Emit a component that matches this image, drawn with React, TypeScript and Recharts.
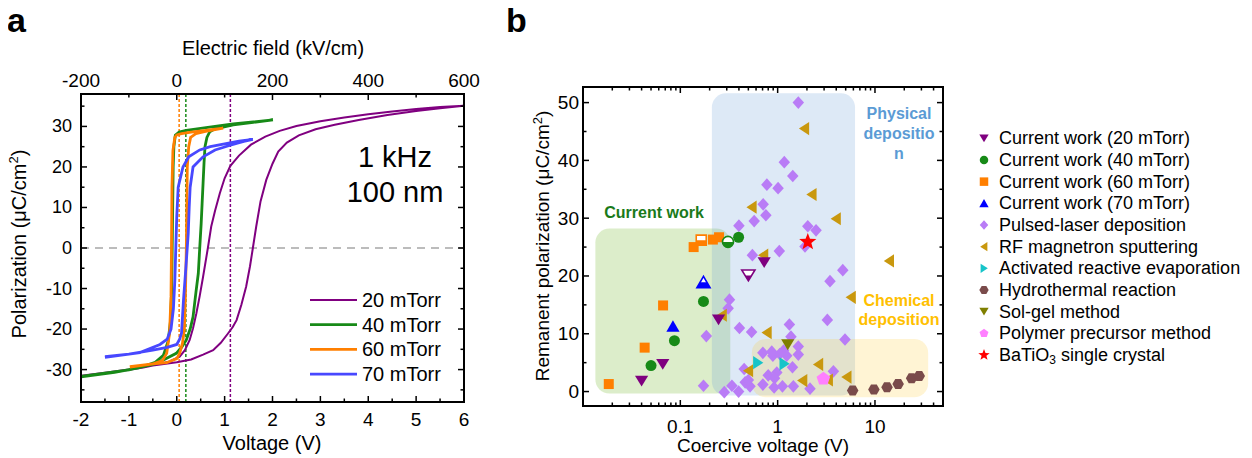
import React from "react";
import {
  ComposedChart,
  ScatterChart,
  Line,
  Scatter,
  XAxis,
  YAxis,
  ReferenceLine,
  ReferenceArea,
} from "recharts";

const FONT = "Arial, 'Liberation Sans', sans-serif";

// ---- panel a: P–V loops, [voltage (V), polarization (uC/cm2)] ----
const loop20 = [
  [-2, -31.5], [-1.5, -30.8], [-1, -30.0], [-0.5, -29.0], [0, -28.2], [0.3, -27.5], [0.55, -26.3],
  [0.76, -25.2], [0.92, -23.4], [1.07, -21.1], [1.17, -19.5], [1.25, -17.8], [1.35, -14], [1.45, -9.5],
  [1.53, -4.5], [1.59, 0], [1.66, 5.3], [1.75, 11.5], [1.87, 16.8], [2.0, 20.8], [2.12, 23.8], [2.3, 26],
  [2.55, 27.8], [2.9, 29.3], [3.3, 30.4], [3.8, 31.6], [4.4, 32.8], [5, 33.8], [5.5, 34.5], [6, 35.1],
  [5.5, 34.8], [5, 34.3], [4.5, 33.7], [4, 33.0], [3.5, 32.2], [3, 31.3], [2.5, 30.1], [2.15, 28.9],
  [1.85, 27.5], [1.55, 25.5], [1.3, 22.8], [1.12, 20.3], [1.0, 17.2], [0.9, 13.5], [0.8, 9.2], [0.72, 5.3],
  [0.65, 0], [0.55, -7.1], [0.48, -11.8], [0.41, -16.1], [0.34, -19.8], [0.27, -22.7], [0.17, -25.2],
  [0.06, -26.8], [-0.15, -28], [-0.35, -28.6], [-0.7, -29.5], [-1.2, -30.4], [-1.6, -31.0], [-2, -31.6],
];
const loop40 = [
  [-2, -31.7], [-1.5, -30.9], [-1, -30.1], [-0.42, -28.5], [-0.01, -26], [0.1, -24.5], [0.2, -22.7],
  [0.28, -20], [0.34, -17], [0.4, -11], [0.45, -6.3], [0.48, 0], [0.51, 6], [0.53, 11], [0.55, 16],
  [0.57, 21], [0.59, 25], [0.63, 27.3], [0.69, 28.7], [0.8, 29.4], [1.18, 30.4], [1.6, 31.0], [2.01, 31.6],
  [1.6, 31.1], [1.18, 30.6], [0.8, 30.0], [0.5, 29.5], [0.2, 29.0], [0.05, 28.6], [-0.03, 27.8],
  [-0.06, 25], [-0.075, 20], [-0.085, 10], [-0.095, 0], [-0.105, -10], [-0.13, -18], [-0.18, -23],
  [-0.28, -26.5], [-0.45, -28.2], [-0.8, -29.6], [-1.3, -30.7], [-2, -31.8],
];
const loop60 = [
  [-0.98, -29.3], [-0.5, -28.6], [-0.21, -28.3], [0, -27.3], [0.06, -26], [0.12, -23.5], [0.16, -20],
  [0.18, -12], [0.2, 0], [0.21, 10], [0.22, 20], [0.25, 25], [0.29, 27.3], [0.4, 28.2], [0.6, 28.8],
  [0.97, 29.6], [0.6, 29.0], [0.3, 28.6], [0.1, 28.2], [0, 27.9], [-0.04, 27.3], [-0.08, 24], [-0.1, 15],
  [-0.11, 0], [-0.12, -12], [-0.15, -21], [-0.21, -26], [-0.3, -27.8], [-0.49, -28.6], [-0.98, -29.4],
];
const loop70 = [
  [-1.5, -26.8], [-1, -26.2], [-0.5, -25.2], [-0.2, -24.5], [0, -23.8], [0.06, -22.5], [0.1, -21],
  [0.14, -13], [0.19, -5], [0.24, 3.6], [0.26, 10], [0.28, 15], [0.34, 20], [0.55, 22.5], [0.8, 24.2],
  [1.1, 25.3], [1.4, 26.3], [1.59, 26.8], [1.3, 26.4], [1.0, 25.7], [0.7, 25.0], [0.48, 24.2],
  [0.25, 22.5], [0.13, 20], [0.03, 15], [0, 7.7], [-0.02, 0], [-0.04, -8], [-0.07, -15], [-0.12, -20],
  [-0.2, -22.5], [-0.35, -23.8], [-0.77, -25.8], [-1.5, -27],
];
const loopNames = ["20 mTorr", "40 mTorr", "60 mTorr", "70 mTorr"];
const loopColors = ["#800080", "#178a17", "#ff7f00", "#4848ff"];
const loopWidths = [2, 2.8, 2.8, 2.8];
// centre of each loop (dotted guides): 20, 40, 60 mTorr
const loopCentres = [1.12, 0.19, 0.05];

const vDomain = [-2, 6];
const eDomain = [-200, 600];
const pDomain = [-38, 38];
const vTicks = [-2, -1.5, -1, -0.5, 0, 0.5, 1, 1.5, 2, 2.5, 3, 3.5, 4, 4.5, 5, 5.5, 6];
const vMajor = [-2, -1, 0, 1, 2, 3, 4, 5, 6];
const eTicks = [-200, -100, 0, 100, 200, 300, 400, 500, 600];
const eMajor = [-200, 0, 200, 400, 600];
const pTicks = [-35, -30, -25, -20, -15, -10, -5, 0, 5, 10, 15, 20, 25, 30, 35];
const pMajor = [-30, -20, -10, 0, 10, 20, 30];

// ---- panel b: [coercive voltage (V), remanent polarization (uC/cm2)] ----
const cw20 = [[0.04, 1.8], [0.066, 4.7], [0.247, 12.4], [0.727, 22.3]];
const cw20Half = [[0.5, 20.1]];
const cw40 = [[0.05, 4.5], [0.087, 8.8], [0.173, 15.6], [0.397, 26.7]];
const cw40Half = [[0.309, 25.9]];
const cw60 = [[0.0184, 1.3], [0.043, 7.6], [0.0665, 14.9], [0.137, 25.0], [0.216, 26.3], [0.25, 26.7]];
const cw60Half = [[0.164, 26.2]];
const cw70 = [[0.084, 11.3]];
const cw70Half = [[0.173, 18.9]];
const pld = [
  [1.63, 50.0], [1.17, 39.7], [1.43, 37.3], [0.775, 35.8], [1.01, 35.2], [0.71, 32.4], [0.757, 30.5],
  [0.574, 29.5], [0.4, 28.7], [2.04, 28.6], [2.48, 27.9], [1.91, 25.1], [0.55, 23.6], [1.04, 24.3],
  [4.67, 21.0], [3.45, 19.1], [0.32, 15.9], [0.31, 14.4], [3.24, 12.4], [0.405, 11.0], [0.54, 10.3],
  [1.32, 11.6], [1.37, 9.5], [0.185, 9.6], [4.92, 9.0], [0.705, 6.7], [0.893, 6.2], [1.15, 7.1],
  [1.24, 6.2], [1.63, 7.8], [1.63, 6.4], [1.42, 4.2], [3.74, 3.5], [0.453, 3.9], [0.8, 2.8], [0.98, 3.3],
  [0.93, 2.3], [0.173, 1.0], [0.283, -0.1], [0.339, 1.0], [0.397, 0.0], [0.464, 1.6], [0.52, 0.9],
  [0.705, 1.2], [0.92, 0.7], [1.12, 0.9], [1.45, 0.9], [2.15, 0.5], [0.5, 2.0], [1.05, 6.5], [0.87, 6.9],
];
const rf = [
  [1.88, 45.5], [2.24, 34.1], [3.98, 29.9], [0.543, 31.9], [0.715, 23.6], [14.0, 22.6], [5.67, 16.3],
  [0.268, 13.2], [0.775, 10.2], [0.5, 3.6], [2.62, 4.7], [1.8, 1.9], [5.12, 2.5], [3.3, 2.0],
];
const are = [[0.627, 5.0], [1.17, 4.8]];
const hydro = [[5.9, 0.2], [9.75, 0.35], [13.3, 0.75], [17.3, 1.3], [23.8, 2.3], [28.5, 2.7]];
const solgel = [[1.27, 8.1]];
const polymer = [[2.95, 2.2]];
const crystal = [[2.04, 25.9]];

const cvDomain = [0.01, 50];
const prDomain = [-2.5, 52.7];
const cvTicks = [
  0.01, 0.02, 0.03, 0.04, 0.05, 0.06, 0.07, 0.08, 0.09, 0.1, 0.2, 0.3, 0.4, 0.5, 0.6, 0.7, 0.8, 0.9,
  1, 2, 3, 4, 5, 6, 7, 8, 9, 10, 20, 30, 40, 50,
];
const cvMajor = [0.01, 0.1, 1, 10];
const cvLabels = [0.1, 1, 10];
const prTicks = [0, 5, 10, 15, 20, 25, 30, 35, 40, 45, 50];
const prMajor = [0, 10, 20, 30, 40, 50];

// shaded groups: [x1, x2, y1, y2]
const boxCurrent = [0.0134, 0.326, -0.35, 28.2];
const boxPhysical = [0.211, 6.24, -0.7, 51.6];
const boxChemical = [0.543, 35.2, -1.0, 9.1];

const legendNames = [
  "Current work (20 mTorr)", "Current work (40 mTorr)", "Current work (60 mTorr)", "Current work (70 mTorr)",
  "Pulsed-laser deposition", "RF magnetron sputtering", "Activated reactive evaporation",
  "Hydrothermal reaction", "Sol-gel method", "Polymer precursor method", "BaTiO3 single crystal",
];
const legendKinds = ["down", "circle", "square", "up", "diamond", "left", "right", "hex", "down", "pent", "star"];
const legendColors = [
  "#7f007f", "#178a17", "#ff7f00", "#0000ff", "#b97cf6", "#c9980e", "#17c4c9", "#7a4b4b", "#7f7f00", "#ff80ff", "#ff0000",
];

const UNIT: Record<string, number[][]> = {
  up: [[0, -0.5], [0.55, 0.45], [-0.55, 0.45]],
  down: [[0, 0.45], [0.55, -0.45], [-0.55, -0.45]],
  left: [[-0.45, 0], [0.4, -0.55], [0.4, 0.55]],
  right: [[0.45, 0], [-0.4, -0.55], [-0.4, 0.55]],
  diamond: [[0, -0.55], [0.5, 0], [0, 0.55], [-0.5, 0]],
  square: [[-0.5, -0.5], [0.5, -0.5], [0.5, 0.5], [-0.5, 0.5]],
  hex: [[0.55, 0], [0.275, 0.476], [-0.275, 0.476], [-0.55, 0], [-0.275, -0.476], [0.275, -0.476]],
  pent: [[0, -0.55], [0.523, -0.17], [0.323, 0.445], [-0.323, 0.445], [-0.523, -0.17]],
  star: [
    [0, -0.6], [0.147, -0.202], [0.571, -0.185], [0.238, 0.077], [0.353, 0.485], [0, 0.25],
    [-0.353, 0.485], [-0.238, 0.077], [-0.571, -0.185], [-0.147, -0.202],
  ],
};

function marker(kind: string, cx: number, cy: number, s: number, color: string, half = false) {
  const body = (fill: string, extra: any = {}) =>
    kind === "circle" ? (
      <circle cx={cx} cy={cy} r={s / 2} fill={fill} {...extra} />
    ) : (
      <polygon points={UNIT[kind].map(([a, b]) => `${cx + a * s},${cy + b * s}`).join(" ")} fill={fill} {...extra} />
    );
  if (!half) return body(color);
  const id = `h-${kind}-${Math.round(cx)}-${Math.round(cy)}`;
  return (
    <g>
      <clipPath id={id}>
        <rect x={cx - s} y={cy} width={2 * s} height={s} />
      </clipPath>
      {body("#fff", { stroke: color, strokeWidth: 1.6 })}
      {body(color, { clipPath: `url(#${id})` })}
    </g>
  );
}

const pts = (rows: number[][]) => rows.map(([x, y]) => ({ x, y }));
const loopPts = (rows: number[][]) => rows.map(([v, p]) => ({ v, p }));
// invisible helper so the top/right axes get a domain of their own
const eSpan = eDomain.map((e) => ({ e, p: 0 }));

const isIn = (list: number[], v: number) => list.some((m) => Math.abs(m - v) <= Math.abs(m) * 1e-6 + 1e-9);
const tickLen = (majors: number[], v: number) => (isIn(majors, v) ? 6 : 3.5);

function tickLabel(side: string, labelled: number[] | null, fs: number, gap: number) {
  return (props: any) => {
    const { x, y, payload } = props;
    const v = payload.value as number;
    if (!labelled || !isIn(labelled, v)) return <g />;
    const common = { fontSize: fs, fill: "#000", fontFamily: FONT };
    if (side === "left")
      return <text x={x - gap} y={y} textAnchor="end" dominantBaseline="central" {...common}>{String(v)}</text>;
    if (side === "bottom") return <text x={x} y={y + gap} textAnchor="middle" {...common}>{String(v)}</text>;
    return <text x={x} y={y - gap} textAnchor="middle" {...common}>{String(v)}</text>;
  };
}

const bare = {
  tickSize: 0,
  tickMargin: 0,
  tickLine: false,
  interval: 0 as const,
  axisLine: { stroke: "#000", strokeWidth: 2 },
  allowDataOverflow: true,
};

// chart geometry (page px): chart offset + margin + axis size
const AXIS_W = 20;
const A_CHART = { left: 0, width: 490, height: 458, margin: { top: 74, right: 6, bottom: 36, left: 61 } };
const B_CHART = { left: 490, width: 762, height: 458, margin: { top: 67, right: 289, bottom: 32, left: 73 } };
const plotBox = (c: typeof A_CHART) => ({
  x0: c.left + c.margin.left + AXIS_W,
  x1: c.left + c.width - c.margin.right - AXIS_W,
  y0: c.margin.top + AXIS_W,
  y1: c.height - c.margin.bottom - AXIS_W,
});
const A_BOX = plotBox(A_CHART);
const B_BOX = plotBox(B_CHART);

function areaShape(fill: string) {
  return (p: any) => <rect x={p.x} y={p.y} width={p.width} height={p.height} rx={14} ry={14} fill={fill} />;
}

// inward frame ticks, placed with the same linear / log mapping the axes use
function Frame({ box, xs, xMajor, topXs, topMajor, sx, sTop, ys, yMajor, sy }: any) {
  const out: React.ReactNode[] = [];
  xs.forEach((v: number) => {
    const x = sx(v);
    const L = tickLen(xMajor, v);
    out.push(<line key={"b" + v} x1={x} x2={x} y1={box.y1} y2={box.y1 - L} />);
  });
  topXs.forEach((v: number) => {
    const x = sTop(v);
    const L = tickLen(topMajor, v);
    out.push(<line key={"t" + v} x1={x} x2={x} y1={box.y0} y2={box.y0 + L} />);
  });
  ys.forEach((v: number) => {
    const y = sy(v);
    const L = tickLen(yMajor, v);
    out.push(<line key={"l" + v} x1={box.x0} x2={box.x0 + L} y1={y} y2={y} />);
    out.push(<line key={"r" + v} x1={box.x1} x2={box.x1 - L} y1={y} y2={y} />);
  });
  return (
    <g stroke="#000" strokeWidth={1.5}>
      {out}
      <rect x={box.x0} y={box.y0} width={box.x1 - box.x0} height={box.y1 - box.y0} fill="none" strokeWidth={2} />
    </g>
  );
}

export default function App() {
  const loops = [loop20, loop40, loop60, loop70];
  const series: [number[][], string, number][] = [
    [pld, "diamond", 11.5],
    [rf, "left", 12],
    [are, "right", 12],
    [hydro, "hex", 10.5],
    [solgel, "down", 12],
    [polymer, "pent", 13],
    [crystal, "star", 15],
  ];
  const current: [number[][], string, number, string, boolean][] = [
    [cw60, "square", 10, legendColors[2], false],
    [cw60Half, "square", 10, legendColors[2], true],
    [cw40, "circle", 11, legendColors[1], false],
    [cw40Half, "circle", 11, legendColors[1], true],
    [cw70, "up", 12, legendColors[3], false],
    [cw70Half, "up", 12, legendColors[3], true],
    [cw20, "down", 12, legendColors[0], false],
    [cw20Half, "down", 12, legendColors[0], true],
  ];

  const lin = (d: number[], a: number, b: number) => (v: number) => a + ((v - d[0]) / (d[1] - d[0])) * (b - a);
  const logm = (d: number[], a: number, b: number) => (v: number) =>
    a + (Math.log10(v / d[0]) / Math.log10(d[1] / d[0])) * (b - a);

  return (
    <div style={{ position: "relative", display: "flex", width: 1252, height: 458, margin: "-8px 0 0 -8px", fontFamily: FONT }}>
      <ComposedChart width={A_CHART.width} height={A_CHART.height} margin={A_CHART.margin}>
        <XAxis xAxisId="v" dataKey="v" type="number" domain={vDomain} ticks={vTicks} height={AXIS_W}
          tick={tickLabel("bottom", vMajor, 19, 24)} {...bare} />
        <XAxis xAxisId="e" dataKey="e" orientation="top" type="number" domain={eDomain} ticks={eTicks} height={AXIS_W}
          tick={tickLabel("top", eMajor, 19, 7)} {...bare} />
        <YAxis yAxisId="p" type="number" domain={pDomain} ticks={pTicks} width={AXIS_W}
          tick={tickLabel("left", pMajor, 18, 9)} {...bare} />
        <YAxis yAxisId="pr" orientation="right" type="number" domain={pDomain} ticks={pTicks} width={AXIS_W}
          tick={tickLabel("right", null, 18, 0)} {...bare} />
        <ReferenceLine xAxisId="v" yAxisId="p" y={0} stroke="#a6a6a6" strokeWidth={1.5} strokeDasharray="8 6" />
        {loopCentres.map((c, i) => (
          <ReferenceLine key={i} xAxisId="v" yAxisId="p" x={c} stroke={loopColors[i]} strokeWidth={1.5} strokeDasharray="3 2" />
        ))}
        <Line xAxisId="e" yAxisId="pr" data={eSpan} dataKey="p" stroke="none" dot={false} legendType="none"
          isAnimationActive={false} />
        {loops.map((l, i) => (
          <Line key={loopNames[i]} xAxisId="v" yAxisId="p" data={loopPts(l)} dataKey="p" name={loopNames[i]}
            type="linear" dot={false} stroke={loopColors[i]} strokeWidth={loopWidths[i]} isAnimationActive={false} />
        ))}
      </ComposedChart>

      <ScatterChart width={B_CHART.width} height={B_CHART.height} margin={B_CHART.margin}>
        <XAxis xAxisId="cv" dataKey="x" type="number" scale="log" domain={cvDomain} ticks={cvTicks} height={AXIS_W}
          tick={tickLabel("bottom", cvLabels, 19, 27)} {...bare} />
        <XAxis xAxisId="cvt" dataKey="x" orientation="top" type="number" scale="log" domain={cvDomain} ticks={cvTicks}
          height={AXIS_W} tick={tickLabel("top", null, 19, 0)} {...bare} />
        <YAxis yAxisId="pr" dataKey="y" type="number" domain={prDomain} ticks={prTicks} width={AXIS_W}
          tick={tickLabel("left", prMajor, 19, 4)} {...bare} />
        <YAxis yAxisId="prr" dataKey="y" orientation="right" type="number" domain={prDomain} ticks={prTicks} width={AXIS_W}
          tick={tickLabel("right", null, 19, 0)} {...bare} />
        <ReferenceArea xAxisId="cv" yAxisId="pr" x1={boxCurrent[0]} x2={boxCurrent[1]} y1={boxCurrent[2]} y2={boxCurrent[3]}
          shape={areaShape("rgba(146, 200, 90, 0.32)")} ifOverflow="visible" />
        <ReferenceArea xAxisId="cv" yAxisId="pr" x1={boxPhysical[0]} x2={boxPhysical[1]} y1={boxPhysical[2]} y2={boxPhysical[3]}
          shape={areaShape("rgba(110, 160, 215, 0.23)")} ifOverflow="visible" />
        <ReferenceArea xAxisId="cv" yAxisId="pr" x1={boxChemical[0]} x2={boxChemical[1]} y1={boxChemical[2]} y2={boxChemical[3]}
          shape={areaShape("rgba(255, 200, 40, 0.2)")} ifOverflow="visible" />
        <Scatter xAxisId="cvt" yAxisId="prr" data={pts(crystal)} legendType="none" isAnimationActive={false}
          shape={() => <g />} />
        {series.map(([d, kind, s], i) => (
          <Scatter key={kind + i} xAxisId="cv" yAxisId="pr" data={pts(d)} name={legendNames[i + 4]} isAnimationActive={false}
            shape={(p: any) => marker(kind, p.cx, p.cy, s, legendColors[i + 4])} />
        ))}
        {current.map(([d, kind, s, color, half], i) => (
          <Scatter key={"cw" + i} xAxisId="cv" yAxisId="pr" data={pts(d)} isAnimationActive={false}
            shape={(p: any) => marker(kind, p.cx, p.cy, s, color, half)} />
        ))}
      </ScatterChart>

      <svg width={1252} height={458} style={{ position: "absolute", left: 0, top: 0, pointerEvents: "none" }} fontFamily={FONT}>
        <Frame box={A_BOX} xs={vTicks} xMajor={vMajor} topXs={eTicks} topMajor={eMajor}
          sx={lin(vDomain, A_BOX.x0, A_BOX.x1)} sTop={lin(eDomain, A_BOX.x0, A_BOX.x1)}
          ys={pTicks} yMajor={pMajor} sy={lin(pDomain, A_BOX.y1, A_BOX.y0)} />
        <Frame box={B_BOX} xs={cvTicks} xMajor={cvMajor} topXs={cvTicks} topMajor={cvMajor}
          sx={logm(cvDomain, B_BOX.x0, B_BOX.x1)} sTop={logm(cvDomain, B_BOX.x0, B_BOX.x1)}
          ys={prTicks} yMajor={prMajor} sy={lin(prDomain, B_BOX.y1, B_BOX.y0)} />

        <text x={7} y={32} fontSize={34} fontWeight="bold">a</text>
        <text x={506} y={32} fontSize={34} fontWeight="bold">b</text>

        <text x={273} y={55} fontSize={20} textAnchor="middle">Electric field (kV/cm)</text>
        <text x={272} y={450} fontSize={20} textAnchor="middle">Voltage (V)</text>
        <text transform="translate(26, 244) rotate(-90)" fontSize={20} textAnchor="middle">
          Polarization (μC/cm<tspan fontSize={13} dy={-8}>2</tspan><tspan dy={8}>)</tspan>
        </text>
        <text x={395} y={167} fontSize={29} textAnchor="middle">1 kHz</text>
        <text x={395} y={202} fontSize={29} textAnchor="middle">100 nm</text>

        {loopNames.map((n, i) => (
          <g key={n} transform={`translate(310, ${300 + i * 24.7})`}>
            <line x1={0} x2={47} y1={0} y2={0} stroke={loopColors[i]} strokeWidth={loopWidths[i]} />
            <text x={52} y={0} dominantBaseline="central" fontSize={20}>{n}</text>
          </g>
        ))}

        <text x={763} y={452} fontSize={19} textAnchor="middle">Coercive voltage (V)</text>
        <text transform="translate(549, 246) rotate(-90)" fontSize={19} textAnchor="middle">
          Remanent polarization (μC/cm<tspan fontSize={13} dy={-7}>2</tspan><tspan dy={7}>)</tspan>
        </text>
        <text x={654} y={218} fontSize={16} fontWeight="bold" fill="#1a7a1a" textAnchor="middle">Current work</text>
        <text x={899} y={119} fontSize={16} fontWeight="bold" fill="#5b9bd5" textAnchor="middle">Physical</text>
        <text x={899} y={139} fontSize={16} fontWeight="bold" fill="#5b9bd5" textAnchor="middle">depositio</text>
        <text x={899} y={159} fontSize={16} fontWeight="bold" fill="#5b9bd5" textAnchor="middle">n</text>
        <text x={899} y={306} fontSize={16} fontWeight="bold" fill="#ffc000" textAnchor="middle">Chemical</text>
        <text x={899} y={325} fontSize={16} fontWeight="bold" fill="#ffc000" textAnchor="middle">deposition</text>

        {legendNames.map((n, i) => (
          <g key={n} transform={`translate(984, ${138.3 + i * 21.67})`}>
            {marker(legendKinds[i], 0, 0, legendKinds[i] === "star" ? 10 : 8.5, legendColors[i])}
            <text x={15} y={0} dominantBaseline="central" fontSize={18}>
              {n === "BaTiO3 single crystal" ? (
                <>
                  BaTiO<tspan fontSize={12} dy={5}>3</tspan>
                  <tspan dy={-5}> single crystal</tspan>
                </>
              ) : (
                n
              )}
            </text>
          </g>
        ))}
      </svg>
    </div>
  );
}
